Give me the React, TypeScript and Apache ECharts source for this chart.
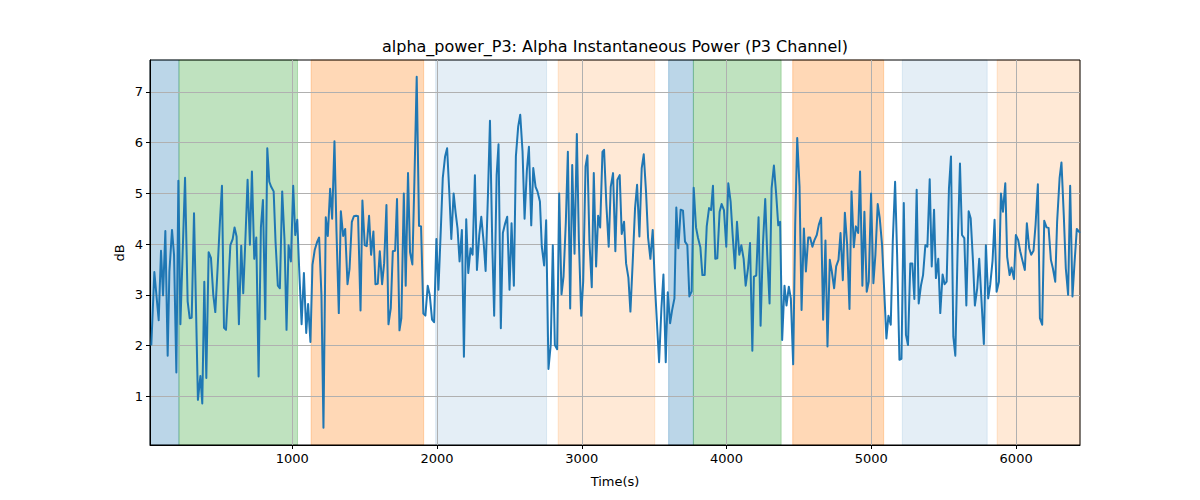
import React, { useEffect, useRef } from "react";
import * as echarts from "echarts";

const TITLE = "alpha_power_P3: Alpha Instantaneous Power (P3 Channel)";
const X_NAME = "Time(s)";
const Y_NAME = "dB";

const xTicks = [1000, 2000, 3000, 4000, 5000, 6000];
const yTicks = [1, 2, 3, 4, 5, 6, 7];

const xMin = 18;
const xMax = 6441;
const yMin = 0.04;
const yMax = 7.63;

const times = [
  27, 48, 78, 94, 108, 124, 140, 152, 170, 184, 200, 214, 228, 260, 278, 292, 306, 322, 349, 366,
  379, 393, 407, 423, 439, 455, 469, 485, 501, 515, 529, 543, 573, 589, 602, 616, 632, 648, 662, 678,
  692, 708, 722, 738, 752, 768, 784, 798, 814, 828, 842, 855, 872, 885, 901, 915, 931, 947, 961, 975,
  991, 1007, 1021, 1035, 1049, 1065, 1081,
  1097, 1110, 1126, 1140, 1156, 1173, 1186, 1202, 1216, 1232, 1246, 1262, 1276, 1292, 1306, 1322, 1336, 1352, 1366, 1382,
  1396, 1412, 1426, 1442, 1455, 1472, 1485, 1501, 1515, 1531, 1545, 1561, 1575, 1591, 1605, 1621, 1635, 1651, 1665, 1681,
  1695, 1711, 1724, 1741, 1754, 1771, 1784, 1800, 1814, 1830, 1844, 1860, 1876, 1890, 1906, 1920, 1936, 1950, 1966, 1980,
  1996, 2010, 2026, 2040, 2056, 2070, 2086, 2099, 2115,
  2129, 2142, 2156, 2172, 2186, 2202, 2216, 2232, 2246, 2262, 2276, 2292, 2306, 2322, 2336, 2352, 2366, 2382, 2395, 2412,
  2425, 2441, 2455, 2471, 2485, 2501, 2515, 2531, 2545, 2561, 2575, 2591, 2605, 2621, 2635, 2651, 2665, 2681, 2694, 2711,
  2724, 2740, 2754, 2770, 2786, 2800, 2814, 2830, 2844, 2860, 2874, 2890, 2904, 2920, 2934, 2950, 2966, 2980, 2996, 3010,
  3026, 3039, 3053, 3069, 3083, 3099, 3113, 3127, 3143, 3154,
  3170, 3186, 3200, 3216, 3232, 3246, 3262, 3276, 3292, 3306, 3322, 3336, 3352, 3368, 3382, 3398, 3414, 3428, 3444, 3458,
  3474, 3490, 3504, 3520, 3534, 3550, 3564, 3580, 3594, 3610, 3624, 3640, 3653, 3667, 3683, 3699, 3713, 3729, 3743, 3759,
  3773, 3789, 3803, 3819, 3833, 3849, 3863, 3879, 3893, 3906, 3922, 3936, 3952, 3966, 3982, 3998, 4012, 4028, 4042, 4058,
  4072, 4088, 4102, 4118, 4132, 4148, 4162, 4178, 4189,
  4205, 4221, 4235, 4251, 4267, 4281, 4297, 4311, 4327, 4343, 4357, 4370, 4384, 4400, 4414, 4430, 4444, 4460, 4474, 4488,
  4504, 4518, 4534, 4548, 4564, 4577, 4593, 4607, 4623, 4637, 4653, 4667, 4683, 4697, 4713, 4727, 4743, 4757, 4773, 4787,
  4803, 4817, 4833, 4849, 4863, 4879, 4893, 4909, 4922, 4938, 4952, 4968, 4982, 4998, 5014, 5028, 5044, 5058, 5074, 5088,
  5104, 5118, 5134, 5148, 5164, 5178, 5194, 5208, 5224,
  5239, 5253, 5269, 5283, 5297, 5313, 5327, 5343, 5357, 5373, 5387, 5403, 5417, 5433, 5446, 5462, 5476, 5492, 5506, 5520,
  5536, 5550, 5566, 5580, 5596, 5612, 5626, 5642,
  5656, 5672, 5686, 5702, 5715, 5731, 5745, 5761, 5777, 5791, 5807, 5821, 5837, 5851, 5865, 5881, 5895, 5909, 5925, 5938,
  5955, 5968, 5985, 5998, 6014, 6028, 6044, 6060, 6074, 6090, 6104, 6120, 6134, 6150, 6164, 6180, 6194, 6210, 6224, 6240,
  6254, 6270, 6283, 6300, 6313, 6329, 6343, 6359, 6373, 6389, 6403, 6419, 6441,
];

const power = [
  2.0, 3.45, 2.5, 3.87, 2.99, 4.26, 1.8, 3.46, 4.28, 3.79, 1.47, 5.25, 2.42, 5.31, 2.87, 2.54, 2.55, 4.61, 0.93, 1.4,
  0.86, 3.26, 1.36, 3.84, 3.73, 3.0, 2.66, 3.53, 4.44, 5.15, 2.35, 2.31, 3.98, 4.1, 4.33, 4.15, 2.42, 3.97, 3.03, 4.18,
  5.27, 3.99, 5.43, 3.71, 4.13, 1.39, 4.33, 4.87, 2.52, 5.89, 5.23, 5.13, 5.04, 4.05, 3.18, 3.13, 5.04, 4.08, 2.31, 3.98,
  3.66, 5.15, 4.18, 4.48, 3.46, 2.42, 3.43,
  2.25, 2.82, 2.07, 3.59, 3.89, 4.05, 4.13, 3.0, 0.38, 4.53, 4.16, 5.09, 4.5, 6.03, 4.25, 2.64, 4.65, 4.16, 4.3, 3.21,
  3.51, 4.44, 4.55, 4.56, 4.55, 2.69, 4.86, 3.98, 3.96, 4.56, 3.79, 4.25, 3.21, 3.22, 3.86, 3.21, 3.62, 4.77, 2.42, 2.74,
  3.86, 3.87, 4.89, 2.3, 2.54, 5.0, 3.18, 5.4, 3.84, 3.6, 5.23, 7.3, 4.36, 4.35, 2.63, 2.59, 3.18, 3.0, 2.51, 2.46,
  4.1, 3.1, 4.25, 5.3, 5.73, 5.89, 4.97, 4.1, 5.0,
  4.61, 4.31, 3.66, 4.28, 1.78, 4.49, 3.43, 3.92, 3.79, 5.36, 3.49, 4.18, 4.54, 4.05, 3.47, 4.97, 6.43, 3.98, 2.59, 5.36,
  5.97, 2.34, 4.22, 4.41, 4.54, 3.1, 4.41, 3.18, 5.73, 6.32, 6.55, 5.82, 4.5, 5.46, 5.92, 4.37, 5.5, 5.13, 5.04, 4.84,
  3.95, 3.58, 4.47, 1.54, 2.03, 3.98, 2.01, 1.93, 5.0, 3.01, 3.36, 4.44, 5.82, 2.73, 5.56, 3.81, 6.17, 4.08, 2.59, 3.27,
  5.53, 5.75, 4.05, 3.15, 5.4, 3.56, 4.56, 4.33, 5.82, 5.86,
  4.77, 3.95, 5.13, 5.4, 3.86, 5.27, 5.36, 4.2, 4.44, 3.62, 3.34, 2.67, 3.66, 4.71, 5.17, 4.15, 5.5, 5.77, 5.02, 4.13,
  3.71, 4.28, 3.26, 2.41, 1.67, 2.73, 3.4, 1.67, 3.05, 2.44, 2.7, 2.93, 4.72, 3.92, 4.68, 4.66, 4.05, 3.98, 2.97, 3.07,
  5.11, 4.33, 4.12, 3.94, 3.39, 3.39, 4.35, 4.71, 4.67, 5.15, 3.71, 3.72, 4.64, 4.79, 4.67, 3.95, 5.2, 4.84, 4.18, 3.52,
  4.44, 3.79, 3.98, 3.71, 3.18, 3.52, 4.02, 1.9, 3.36,
  3.38, 4.53, 2.39, 3.98, 4.89, 3.79, 2.83, 5.1, 5.55, 4.97, 4.37, 4.44, 2.11, 3.18, 2.79, 3.16, 2.93, 1.63, 4.38, 6.09,
  5.13, 2.7, 4.31, 3.46, 4.13, 4.13, 3.95, 4.08, 4.18, 4.38, 4.52, 2.51, 4.07, 1.98, 3.69, 3.46, 3.13, 3.56, 3.69, 4.22,
  3.29, 4.62, 3.98, 2.72, 5.04, 3.94, 4.35, 4.22, 5.43, 3.18, 4.64, 3.06, 3.26, 5.0, 3.23, 3.79, 4.79, 4.51, 3.98, 3.13,
  2.14, 2.59, 2.41, 4.05, 5.23, 3.79, 1.72, 1.74, 4.81,
  2.21, 2.01, 3.62, 3.62, 2.92, 5.07, 2.83, 3.19, 3.39, 3.98, 3.95, 5.28, 3.56, 4.68, 3.33, 3.71, 2.64, 3.4, 3.21, 3.26,
  5.1, 5.73, 2.18, 1.8, 3.92, 5.59, 4.18, 4.12,
  2.79, 4.65, 4.51, 3.66, 2.79, 3.13, 3.71, 2.87, 2.03, 3.98, 2.93, 3.2, 3.67, 4.48, 3.06, 3.26, 5.0, 4.64, 5.2, 3.75,
  3.39, 3.54, 3.31, 4.18, 4.08, 3.86, 3.67, 3.49, 4.41, 3.92, 3.79, 3.87, 4.38, 5.18, 2.54, 2.41, 4.46, 4.33, 4.32, 3.69,
  3.52, 3.26, 4.44, 5.3, 5.61, 4.57, 3.52, 3.0, 5.15, 2.97, 3.62, 4.3, 4.22,
];

// shaded phases: start, end, kind
const phaseStart = [18, 218, 1131, 1991, 2837, 3600, 3771, 4457, 5214, 5869];
const phaseEnd = [218, 1037, 1908, 2757, 3504, 3771, 4377, 5085, 5800, 6441];
const phaseKind = ["blue", "green", "orange", "lightblue", "lightorange", "blue", "green", "orange", "lightblue", "lightorange"];

const phaseColors: Record<string, [string, string]> = {
  blue: ["rgba(31,119,180,0.3)", "rgba(31,119,180,0.3)"],
  green: ["rgba(44,160,44,0.3)", "rgba(44,160,44,0.3)"],
  orange: ["rgba(255,127,14,0.3)", "rgba(255,127,14,0.3)"],
  lightblue: ["rgba(31,119,180,0.12)", "rgba(31,119,180,0.12)"],
  lightorange: ["rgba(255,127,14,0.17)", "rgba(255,127,14,0.17)"],
};

const FONT = "DejaVu Sans";

export default function App() {
  const ref = useRef<HTMLDivElement>(null);

  useEffect(() => {
    if (!ref.current) return;
    const chart = echarts.init(ref.current, null, { renderer: "svg" });

    const lineData = times.map((t, i) => [t, power[i]]);
    const areas = phaseStart.map((s, i) => {
      const [fill, border] = phaseColors[phaseKind[i]];
      return [
        { xAxis: s, itemStyle: { color: fill, borderColor: border, borderWidth: 1 } },
        { xAxis: phaseEnd[i] },
      ];
    });

    chart.setOption({
      animation: false,
      backgroundColor: "#ffffff",
      grid: {
        left: 150,
        right: 120,
        top: 60,
        bottom: 55,
        show: true,
        borderColor: "#000000",
        borderWidth: 1,
        backgroundColor: "transparent",
        z: 2,
      },
      xAxis: {
        type: "value",
        min: xMin,
        max: xMax,
        z: 2,
        axisLine: { show: true, onZero: false, lineStyle: { color: "#000000", width: 1 } },
        axisTick: {
          show: true,
          length: 4,
          inside: false,
          customValues: xTicks,
          lineStyle: { color: "#000000", width: 1 },
        },
        axisLabel: {
          show: true,
          customValues: xTicks,
          formatter: (v: number) => String(v),
          margin: 7,
          color: "#000000",
          fontSize: 13,
          fontFamily: FONT,
        },
        splitLine: { show: true, lineStyle: { color: "#b0b0b0", width: 1 } },
      },
      yAxis: {
        type: "value",
        min: yMin,
        max: yMax,
        z: 2,
        axisLine: { show: true, onZero: false, lineStyle: { color: "#000000", width: 1 } },
        axisTick: {
          show: true,
          length: 4,
          inside: false,
          customValues: yTicks,
          lineStyle: { color: "#000000", width: 1 },
        },
        axisLabel: {
          show: true,
          customValues: yTicks,
          formatter: (v: number) => String(v),
          margin: 7,
          color: "#000000",
          fontSize: 13,
          fontFamily: FONT,
        },
        splitLine: { show: true, lineStyle: { color: "#b0b0b0", width: 1 } },
      },
      graphic: [
        {
          type: "text",
          x: 615,
          y: 46,
          style: {
            text: TITLE,
            fill: "#000000",
            font: `16px "${FONT}"`,
            textAlign: "center",
            textVerticalAlign: "middle",
          },
        },
        {
          type: "text",
          x: 615,
          y: 481,
          style: {
            text: X_NAME,
            fill: "#000000",
            font: `13px "${FONT}"`,
            textAlign: "center",
            textVerticalAlign: "middle",
          },
        },
        {
          type: "text",
          x: 119,
          y: 253,
          rotation: Math.PI / 2,
          style: {
            text: Y_NAME,
            fill: "#000000",
            font: `13px "${FONT}"`,
            textAlign: "center",
            textVerticalAlign: "middle",
          },
        },
      ],
      series: [
        {
          type: "line",
          name: "phases",
          data: [],
          z: 1,
          silent: true,
          markArea: { silent: true, data: areas },
        },
        {
          type: "line",
          name: "alpha_power_P3",
          data: lineData,
          z: 3,
          showSymbol: false,
          symbol: "none",
          silent: true,
          lineStyle: { color: "#1f77b4", width: 2, join: "round" },
          itemStyle: { color: "#1f77b4" },
        },
      ],
    });

    return () => {
      chart.dispose();
    };
  }, []);

  return (
    <div
      ref={ref}
      style={{ position: "fixed", left: 0, top: 0, width: 1200, height: 500 }}
    />
  );
}
